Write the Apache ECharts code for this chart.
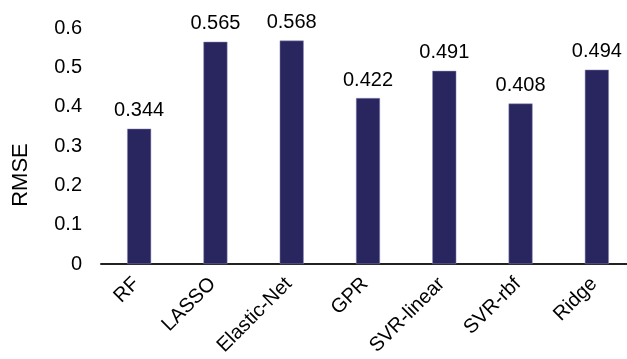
<!DOCTYPE html>
<html>
<head>
<meta charset="utf-8">
<script src="https://cdn.jsdelivr.net/npm/echarts@6/dist/echarts.min.js"></script>
<style>
  html, body { margin: 0; padding: 0; background: #fff; }
  #chart { width: 627px; height: 359px; }
</style>
</head>
<body>
<div id="chart"></div>
<script>
const models = ["RF", "LASSO", "Elastic-Net", "GPR", "SVR-linear", "SVR-rbf", "Ridge"];
const rmse = [0.344, 0.565, 0.568, 0.422, 0.491, 0.408, 0.494];
const yTicks = [0, 0.1, 0.2, 0.3, 0.4, 0.5, 0.6];

const font = "Liberation Sans, Arial, sans-serif";
const chart = echarts.init(document.getElementById("chart"));
chart.setOption({
  animation: false,
  grid: { left: 101, right: -8, top: 28, bottom: 95, outerBoundsMode: "none", containLabel: false },
  xAxis: {
    type: "category",
    data: models,
    axisLine: { lineStyle: { color: "#222", width: 2 } },
    axisTick: { show: false },
    axisLabel: {
      interval: 0,
      rotate: 45,
      margin: 14,
      padding: [0, 4, 0, 0],
      color: "#000",
      fontSize: 20,
      fontFamily: font
    }
  },
  yAxis: {
    type: "value",
    min: yTicks[0],
    max: yTicks[yTicks.length - 1],
    interval: 0.1,
    name: "RMSE",
    nameLocation: "middle",
    nameGap: 69,
    nameRotate: 90,
    nameTextStyle: { color: "#000", fontSize: 22, fontFamily: font, padding: [0, 58, 0, 0] },
    axisLine: { show: false },
    axisTick: { show: false },
    splitLine: { show: false },
    axisLabel: {
      margin: 19,
      color: "#000",
      fontSize: 20,
      fontFamily: font,
      formatter: (v) => String(Math.round(v * 10) / 10)
    }
  },
  series: [{
    type: "bar",
    data: rmse,
    barWidth: 24,
    itemStyle: { color: "#29255F", borderColor: "#8f8fb8", borderWidth: 0.5 },
    label: {
      show: true,
      position: "top",
      distance: 8,
      color: "#000",
      fontSize: 20,
      fontFamily: font,
      formatter: (p) => p.value.toFixed(3)
    }
  }]
});
</script>
</body>
</html>
